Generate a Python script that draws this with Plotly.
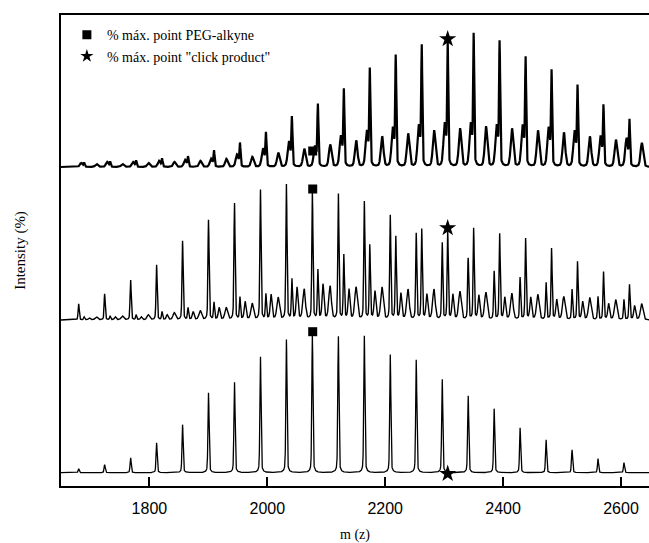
import numpy as np
import plotly.graph_objects as go

# ---------------- data ----------------
# PEG-alkyne ion series (m/z) and click-product series (m/z)
peg_mz = [1680.0 + 44.05 * k for k in range(22)]
click_mz = [1689.3 + 44.05 * k for k in range(22)]
minor_mz = [1710.0 + 44.05 * k for k in range(22)]
minor2_mz = [1698.0 + 44.05 * k for k in range(22)]

# bottom spectrum: PEG-alkyne only (relative intensity)
bottom_peg = [4, 8, 15, 30, 48, 80, 91, 116, 133, 138, 137, 137, 118, 113, 94, 77, 64, 45, 33, 23, 14, 10]

# middle spectrum
middle_peg = [16, 26, 40, 55, 79, 100, 117, 130, 135, 127, 126, 118, 104, 86, 77, 61, 48, 42, 37, 30, 23, 20]
middle_click = [3, 4, 5, 8, 12, 17, 22, 25, 40, 49, 64, 74, 83, 90, 88, 91, 86, 81, 71, 58, 48, 35]
middle_minor = [3, 4, 5, 7, 9, 12, 16, 22, 30, 33, 32, 32, 30, 30, 28, 27, 26, 25, 23, 22, 20, 16]
middle_minor2 = [2, 3, 3, 5, 8, 12, 18, 25, 32, 35, 30, 28, 26, 25, 25, 24, 22, 22, 20, 18, 16, 14]

# top spectrum
top_click = [4, 5, 6, 8, 10, 16, 23, 33, 48, 61, 75, 95, 108, 118, 121, 129, 122, 106, 93, 78, 59, 45]
top_peg = [4, 5, 5, 6, 7, 8, 12, 18, 25, 20, 30, 35, 38, 40, 42, 42, 40, 40, 38, 35, 30, 28]
top_minor = [3, 3, 4, 5, 6, 8, 10, 14, 18, 22, 26, 30, 33, 36, 38, 40, 38, 36, 34, 30, 27, 24]

# "% max point" markers (m/z and height above each baseline)
square_mz = 2077.0
star_mz = 2306.0
square_h = [141, 131, 16]   # bottom, middle, top
star_h = [-1, 92, 128]

tick_vals = [1800, 2000, 2200, 2400, 2600]
legend_labels = ["% máx. point PEG-alkyne", '% máx. point "click product"']

# ---------------- layout constants ----------------
baselines = [13.3, 166.0, 319.0]
x = np.arange(1650.0, 2650.0, 0.2)


def sharp(pos, hts, sig=0.9):
    y = np.zeros_like(x)
    for m, h in zip(pos, hts):
        d = x - m
        y += h * (0.8 * np.exp(-0.5 * (d / sig) ** 2) + 0.2 / (1 + (d / 1.6) ** 2))
    return y


def broad(pos, hts, sig=2.2):
    y = np.zeros_like(x)
    for m, h in zip(pos, hts):
        d = x - m
        y += h * (0.7 * np.exp(-0.5 * (d / sig) ** 2) + 0.3 / (1 + (d / 2.5) ** 2))
    return y


bottom = baselines[0] + sharp(peg_mz, bottom_peg)
middle = (baselines[1] + sharp(peg_mz, middle_peg) + sharp(click_mz, middle_click)
          + broad(minor_mz, middle_minor) + broad(minor2_mz, middle_minor2, 1.4))
top = (baselines[2] + sharp(click_mz, top_click)
       + broad([m - 5 for m in click_mz], top_peg)
       + broad([m + 21 for m in click_mz], top_minor))

fig = go.Figure()
for yy, w in [(bottom, 1.3), (middle, 1.4), (top, 2.2)]:
    fig.add_trace(go.Scatter(x=x, y=yy, mode="lines", line=dict(color="black", width=w),
                             showlegend=False, hoverinfo="skip"))

fig.add_trace(go.Scatter(x=[square_mz] * 3, y=[b + h for b, h in zip(baselines, square_h)],
                         mode="markers", marker=dict(symbol="square", size=9, color="black"),
                         showlegend=False))
fig.add_trace(go.Scatter(x=[star_mz] * 3, y=[b + h for b, h in zip(baselines, star_h)],
                         mode="markers", marker=dict(symbol="star", size=13, color="black"),
                         showlegend=False))

# legend entries
fig.add_trace(go.Scatter(x=[None], y=[None], mode="markers", name=legend_labels[0],
                         marker=dict(symbol="square", size=9, color="black")))
fig.add_trace(go.Scatter(x=[None], y=[None], mode="markers", name=legend_labels[1],
                         marker=dict(symbol="star", size=10, color="black")))

fig.update_layout(
    width=649, height=543,
    margin=dict(l=61, r=0, t=15, b=57, autoexpand=False),
    plot_bgcolor="white", paper_bgcolor="white",
    showlegend=True,
    legend=dict(x=0.01, y=0.991, xanchor="left", yanchor="top",
                font=dict(family="Liberation Serif", size=14, color="black"),
                bgcolor="rgba(0,0,0,0)", borderwidth=0, tracegroupgap=0),
    xaxis=dict(range=[1650, 2647.5], tickvals=tick_vals, ticks="inside", ticklen=9,
               tickwidth=2, tickcolor="black", showline=True, linecolor="black",
               linewidth=2, mirror=True, showgrid=False, zeroline=False, automargin=False,
               ticklabelstandoff=7,
               tickfont=dict(family="Liberation Sans", size=16, color="black"),
               title=dict(text="m (z)", font=dict(family="Liberation Serif", size=14, color="black"),
                          standoff=16)),
    yaxis=dict(range=[0, 471], showticklabels=False, ticks="", showline=True,
               linecolor="black", linewidth=2, showgrid=False, zeroline=False, automargin=False,
               title=dict(text="Intensity (%)", font=dict(family="Liberation Serif", size=15, color="black"),
                          standoff=30)),
)

fig.write_html("out.html", config={"displayModeBar": False},
               post_script="document.body.style.margin='0';")
